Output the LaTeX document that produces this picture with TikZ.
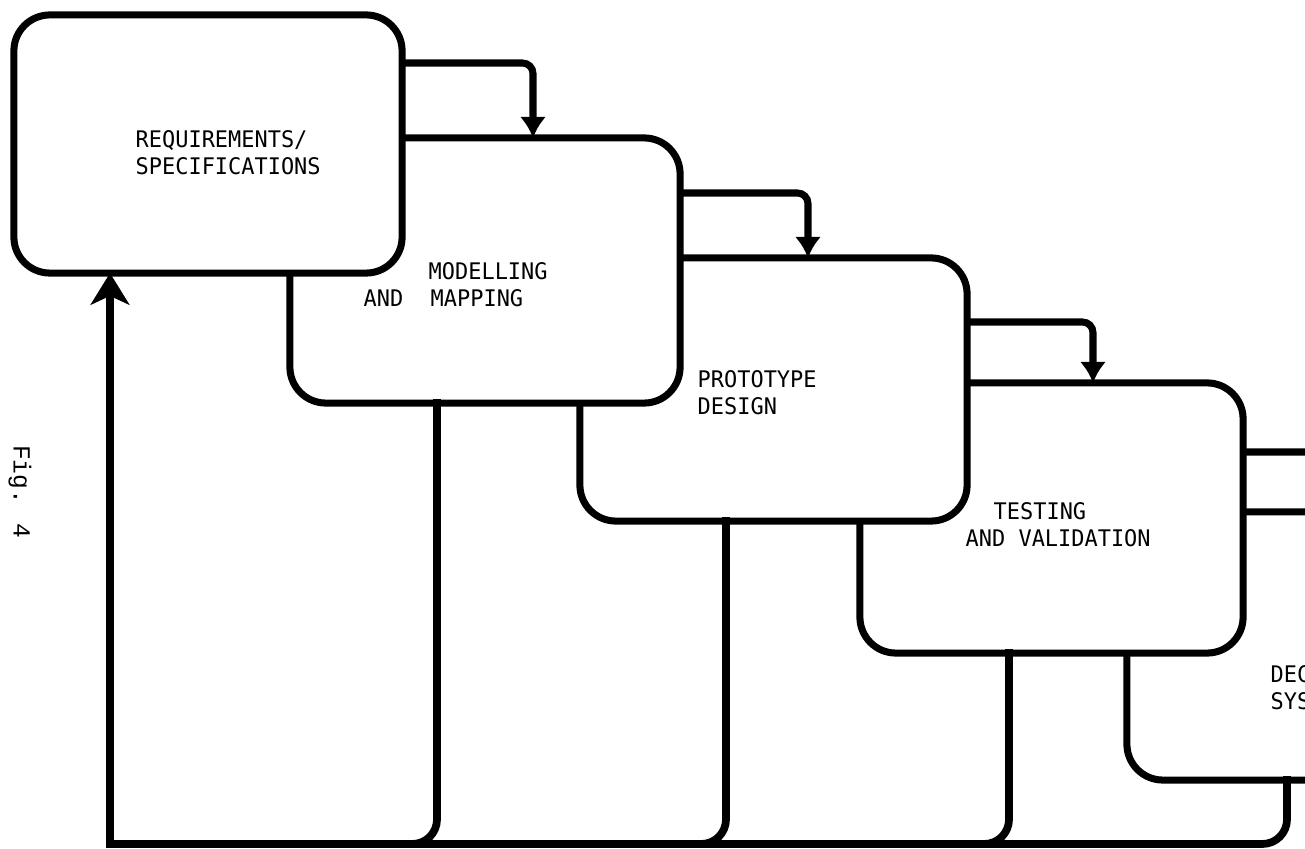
\documentclass[tikz,border=0pt]{standalone}
\usepackage{fontspec}
\usetikzlibrary{arrows.meta}
\newfontfamily\boxfont[FakeStretch=0.96]{DejaVu Sans Mono}
\newfontfamily\figfont{Liberation Mono}
\tikzset{
  box/.style={draw, line width=2pt, fill=white, rounded corners=0.36cm, inner sep=0pt, outer sep=0pt},
  wire/.style={line width=2pt},
  feed/.style={line width=2.2pt, rounded corners=7pt, line cap=rect},
  down/.style={wire, rounded corners=3pt, -{Latex[length=6pt,width=7.5pt]}},
  up/.style={line width=2.2pt, line cap=rect, -{Stealth[length=9pt,width=11pt,inset=2.5pt]}},
  lbl/.style={font=\boxfont\fontsize{6.5}{7.7}\selectfont, inner sep=0pt, anchor=base west},
}
\begin{document}
\begin{tikzpicture}[x=0.01cm, y=-0.01cm]
\clip (0,0) rectangle (1305,849);
\fill[white] (0,0) rectangle (1305,849);
% boxes, back to front
\node[box, minimum width=3.93cm, minimum height=2.68cm] (b5) at (1323.5,646) {};
\node[box, minimum width=3.83cm, minimum height=2.70cm] (b4) at (1051.5,518) {};
\node[box, minimum width=3.87cm, minimum height=2.63cm] (b3) at (773.5,389.5) {};
\node[box, minimum width=3.90cm, minimum height=2.65cm] (b2) at (485,270.5) {};
\node[box, minimum width=3.88cm, minimum height=2.58cm] (b1) at (208,144) {};
% labels
\node[lbl] (t1a) at (135,148) {REQUIREMENTS/};
\node[lbl] (t1b) at (135,175) {SPECIFICATIONS};
\node[lbl] (t2a) at (428,280) {MODELLING};
\node[lbl] (t2b) at (363,307) {AND};
\node[lbl] (t2c) at (430,307) {MAPPING};
\node[lbl] (t3a) at (697,388) {PROTOTYPE};
\node[lbl] (t3b) at (697,415) {DESIGN};
\node[lbl] (t4a) at (993,520) {TESTING};
\node[lbl] (t4b) at (965,547) {AND VALIDATION};
\node[lbl] (t5a) at (1270,683) {DEC};
\node[lbl] (t5b) at (1270,710) {SYS};
\node[font=\figfont\fontsize{7}{8}\selectfont, rotate=-90, inner sep=0pt] (fig) at (20,492) {Fig. 4};
% forward connectors
\coordinate (k1) at (533,63);
\coordinate (k2) at (808,193);
\coordinate (k3) at (1093,322);
\coordinate (k4) at (1375,452);
\draw[down] (b1.east |- k1) -- (k1) -- (k1 |- b2.north);
\draw[down] (b2.east |- k2) -- (k2) -- (k2 |- b3.north);
\draw[down] (b3.east |- k3) -- (k3) -- (k3 |- b4.north);
\draw[down] (b4.east |- k4) -- (k4) -- (k4 |- b5.north);
% feedback lines
\coordinate (bl) at (110,844);
\coordinate (m2) at (437,844);
\coordinate (m3) at (726,844);
\coordinate (m4) at (1009,844);
\coordinate (m5) at (1287,844);
\draw[feed] (b5.south -| m5) |- (bl);
\draw[feed] (b4.south -| m4) |- (bl);
\draw[feed] (b3.south -| m3) |- (bl);
\draw[feed] (b2.south -| m2) |- (bl);
\draw[up] (bl) -- (bl |- b1.south);
\end{tikzpicture}
\end{document}
